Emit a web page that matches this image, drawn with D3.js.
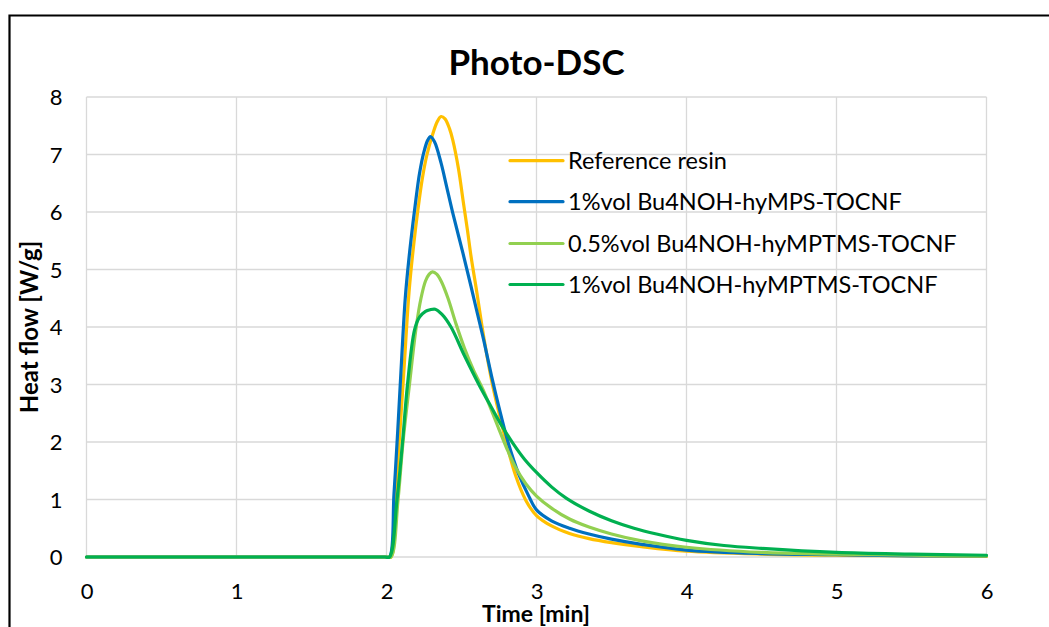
<!DOCTYPE html>
<html><head><meta charset="utf-8">
<script src="https://cdn.jsdelivr.net/npm/d3@7"></script>
<style>
body{margin:0;background:#fff;}
svg{display:block;}
text{font-family:Lato,"Open Sans",sans-serif;fill:#000;}
</style>
</head><body>
<svg id="chart" width="1049" height="627"></svg>
<script>
const titleText = "Photo-DSC";
const xTitle = "Time [min]";
const yTitle = "Heat flow [W/g]";
const xTicks = [0, 1, 2, 3, 4, 5, 6];
const yTicks = [0, 1, 2, 3, 4, 5, 6, 7, 8];
const seriesNames = ["Reference resin", "1%vol Bu4NOH-hyMPS-TOCNF", "0.5%vol Bu4NOH-hyMPTMS-TOCNF", "1%vol Bu4NOH-hyMPTMS-TOCNF"];
const seriesColors = ["#FFC000", "#0070C0", "#92D050", "#00B050"];

// Reference resin
const refT = [0, 1, 2.0, 2.03, 2.06, 2.09, 2.12, 2.15, 2.18, 2.21, 2.24, 2.27, 2.31, 2.34, 2.364, 2.39, 2.42, 2.442, 2.48, 2.51, 2.54, 2.564, 2.6, 2.65, 2.70, 2.75, 2.798, 2.86, 2.93, 3.0, 3.1, 3.22, 3.35, 3.5, 3.7, 4.0, 4.5, 5.0, 5.5, 6.0];
const refV = [0, 0, 0, 0, 1.1, 2.2, 3.4, 4.6, 5.4, 6.05, 6.6, 7.0, 7.37, 7.58, 7.66, 7.62, 7.45, 7.25, 6.75, 6.21, 5.68, 5.22, 4.64, 3.8, 3.08, 2.5, 2.0, 1.42, 0.98, 0.72, 0.54, 0.41, 0.32, 0.25, 0.18, 0.1, 0.05, 0.03, 0.02, 0.01];

// 1%vol Bu4NOH-hyMPS-TOCNF
const mpsT = [0, 1, 1.99, 2.02, 2.05, 2.075, 2.10, 2.125, 2.15, 2.176, 2.2, 2.22, 2.25, 2.275, 2.293, 2.32, 2.364, 2.40, 2.442, 2.51, 2.564, 2.6, 2.65, 2.7, 2.75, 2.81, 2.88, 2.95, 3.0, 3.1, 3.22, 3.35, 3.5, 3.7, 4.0, 4.5, 5.0, 5.5, 6.0];
const mpsV = [0, 0, 0, 0, 1.1, 2.2, 3.4, 4.5, 5.2, 5.8, 6.3, 6.67, 7.05, 7.25, 7.31, 7.22, 6.85, 6.45, 5.98, 5.28, 4.7, 4.3, 3.75, 3.15, 2.6, 2.0, 1.45, 1.05, 0.82, 0.63, 0.5, 0.4, 0.31, 0.22, 0.12, 0.06, 0.04, 0.02, 0.02];

// 0.5%vol Bu4NOH-hyMPTMS-TOCNF
const half5T = [0, 1, 2.0, 2.03, 2.077, 2.11, 2.153, 2.198, 2.23, 2.26, 2.285, 2.307, 2.335, 2.364, 2.41, 2.464, 2.52, 2.58, 2.645, 2.7, 2.75, 2.8, 2.86, 2.93, 3.0, 3.1, 3.22, 3.35, 3.5, 3.7, 4.0, 4.5, 5.0, 5.5, 6.0];
const half5V = [0, 0, 0, 0, 1.0, 2.0, 3.0, 4.0, 4.5, 4.8, 4.92, 4.96, 4.92, 4.8, 4.5, 4.05, 3.63, 3.25, 2.9, 2.55, 2.22, 1.9, 1.56, 1.27, 1.06, 0.85, 0.66, 0.52, 0.4, 0.28, 0.17, 0.08, 0.05, 0.03, 0.02];

// 1%vol Bu4NOH-hyMPTMS-TOCNF
const one5T = [0, 1, 1.99, 2.02, 2.07, 2.107, 2.14, 2.187, 2.22, 2.26, 2.29, 2.325, 2.37, 2.43, 2.52, 2.62, 2.7, 2.76, 2.842, 2.92, 3.0, 3.1, 3.2, 3.35, 3.5, 3.65, 3.8, 4.0, 4.25, 4.5, 5.0, 5.5, 6.0];
const one5V = [0, 0, 0, 0, 1.0, 2.0, 3.0, 3.95, 4.17, 4.27, 4.3, 4.31, 4.22, 4.0, 3.5, 2.98, 2.6, 2.32, 1.98, 1.7, 1.47, 1.22, 1.02, 0.8, 0.63, 0.5, 0.4, 0.29, 0.2, 0.15, 0.08, 0.05, 0.03];

const seriesT = [refT, mpsT, half5T, one5T];
const seriesV = [refV, mpsV, half5V, one5V];

const svg = d3.select("#chart");
const W = 1049, H = 627;
const plot = {left: 86.5, right: 986.5, top: 97, bottom: 557};

const x = d3.scaleLinear().domain([0, 6]).range([plot.left, plot.right]);
const y = d3.scaleLinear().domain([0, 8]).range([plot.bottom, plot.top]);

svg.append("rect").attr("width", W).attr("height", H).attr("fill", "#fff");

// outer frame (extends past the viewport on right and bottom)
svg.append("path")
  .attr("d", `M9.5,${H + 5} L9.5,15.5 L${W + 5},15.5`)
  .attr("fill", "none").attr("stroke", "#000").attr("stroke-width", 2.2);

// gridlines
const grid = svg.append("g");
grid.selectAll(".gx").data(xTicks).join("line")
  .attr("x1", d => x(d)).attr("x2", d => x(d))
  .attr("y1", plot.top).attr("y2", plot.bottom)
  .attr("stroke", "#d9d9d9").attr("stroke-width", 1.3);
grid.selectAll(".gy").data(yTicks).join("line")
  .attr("x1", plot.left).attr("x2", plot.right)
  .attr("y1", d => y(d)).attr("y2", d => y(d))
  .attr("stroke", "#d9d9d9").attr("stroke-width", 1.3);

// axes via d3 axis generators (labels only)
const xAxis = svg.append("g").attr("transform", `translate(0,${plot.bottom})`)
  .call(d3.axisBottom(x).tickValues(xTicks).tickFormat(d3.format("d")).tickSize(0).tickPadding(0));
xAxis.select(".domain").remove();
xAxis.selectAll("text").attr("font-size", 22).attr("dy", null).attr("y", 42)
  .style("font-family", "Lato").attr("fill", "#000");

const yAxis = svg.append("g").attr("transform", `translate(${plot.left},0)`)
  .call(d3.axisLeft(y).tickValues(yTicks).tickFormat(d3.format("d")).tickSize(0).tickPadding(0));
yAxis.select(".domain").remove();
yAxis.selectAll("text").attr("font-size", 22).attr("x", -24).attr("dy", "0.36em")
  .style("font-family", "Lato").attr("fill", "#000");

// lines
const line = d3.line().x(d => x(d[0])).y(d => y(d[1])).curve(d3.curveCatmullRom.alpha(0.5));
const lines = svg.append("g");
seriesNames.forEach((name, i) => {
  const pts = seriesT[i].map((t, j) => [t, seriesV[i][j]]);
  lines.append("path").datum(pts)
    .attr("d", line)
    .attr("fill", "none")
    .attr("stroke", seriesColors[i])
    .attr("stroke-width", 3.2)
    .attr("stroke-linejoin", "round")
    .attr("stroke-linecap", "round");
});

// legend
const legend = svg.append("g");
const legY = [160.7, 201.7, 243.5, 284.5];
seriesNames.forEach((name, i) => {
  legend.append("line")
    .attr("x1", 510).attr("x2", 563)
    .attr("y1", legY[i]).attr("y2", legY[i])
    .attr("stroke", seriesColors[i]).attr("stroke-width", 3.2)
    .attr("stroke-linecap", "round");
  legend.append("text")
    .attr("x", 568).attr("y", legY[i] + 8.5)
    .attr("font-size", 23.5)
    .text(name);
});

// title
svg.append("text")
  .attr("x", 536.5).attr("y", 75)
  .attr("text-anchor", "middle")
  .attr("font-size", 35).attr("font-weight", "bold")
  .text(titleText);

// axis titles
svg.append("text")
  .attr("x", 536).attr("y", 622)
  .attr("text-anchor", "middle")
  .attr("font-size", 23).attr("font-weight", "bold")
  .text(xTitle);

svg.append("text")
  .attr("transform", `translate(38,${(plot.top + plot.bottom) / 2}) rotate(-90)`)
  .attr("text-anchor", "middle")
  .attr("font-size", 24).attr("font-weight", "bold")
  .text(yTitle);
</script>
</body></html>
